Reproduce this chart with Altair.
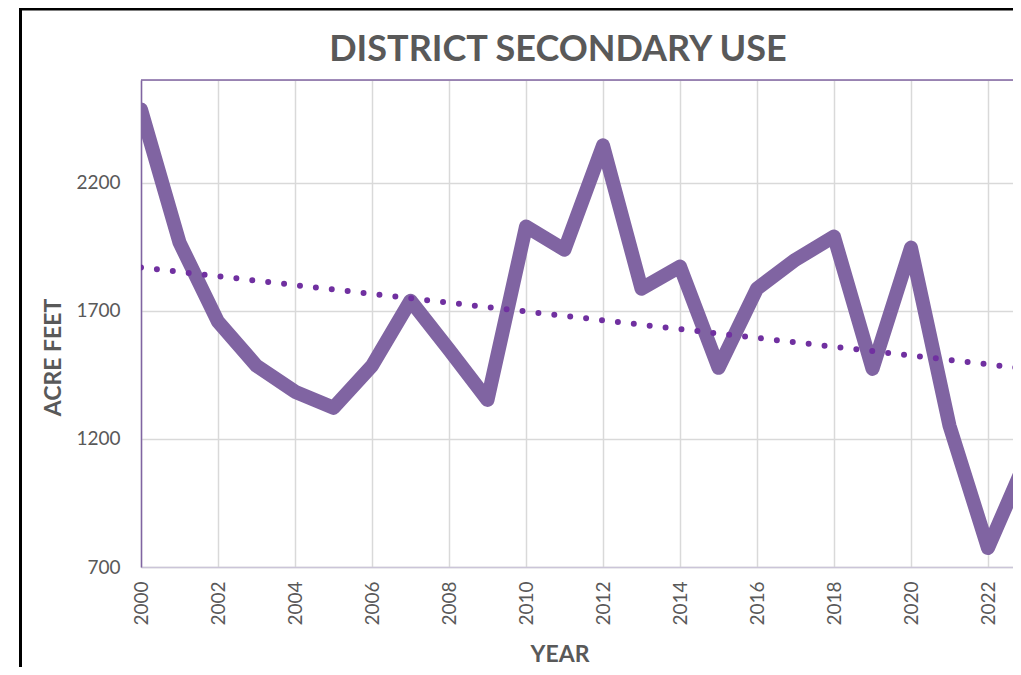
import altair as alt
import pandas as pd

years = list(range(2000, 2024))
acre_feet = [2485, 1966, 1657, 1485, 1384, 1321, 1485, 1739, 1548, 1352,
             2028, 1938, 2345, 1786, 1872, 1477, 1786, 1899, 1989, 1473,
             1946, 1251, 774, 1120]
x_ticks = list(range(2000, 2023, 2))
y_ticks = [700, 1200, 1700, 2200]
title_text = "DISTRICT SECONDARY USE"

df = pd.DataFrame({"year": years, "value": acre_feet})

FONT = "Lato"
TXT = "#595959"
PURPLE = "#8064A2"

W, H = 872, 487

x_scale = alt.Scale(domain=[2000, 2000 + W / 38.5], nice=False, zero=False)
y_scale = alt.Scale(domain=[700, 2600], nice=False, zero=False)

x_axis = alt.Axis(values=x_ticks, format="d", title="YEAR", labelAngle=270,
                  labelAlign="right", labelBaseline="middle", labelPadding=14,
                  labelFont=FONT, labelFontSize=19, labelColor=TXT,
                  titleFont=FONT, titleFontSize=23, titleFontWeight="bold",
                  titleColor=TXT, titleX=418.5, titleY=99,
                  titleBaseline="bottom", titleAlign="center",
                  ticks=False, grid=True, gridColor="#D9D9D9", gridWidth=1.5,
                  domainColor="#CBC5D8", domainWidth=1.5)
y_axis = alt.Axis(values=y_ticks, format="d", title="ACRE FEET",
                  labelPadding=21, labelFont=FONT, labelFontSize=19,
                  labelColor=TXT, titleFont=FONT, titleFontSize=23,
                  titleFontWeight="bold", titleColor=TXT, titleAngle=270,
                  titleX=-88, titleY=277, titleBaseline="middle",
                  titleAlign="center", ticks=False, grid=True,
                  gridColor="#D9D9D9", gridWidth=1.5,
                  domainColor=PURPLE, domainWidth=1.5)

base = alt.Chart(df)

line = base.mark_line(color=PURPLE, strokeWidth=14, strokeCap="round",
                      strokeJoin="round", clip=True).encode(
    x=alt.X("year:Q", scale=x_scale, axis=x_axis),
    y=alt.Y("value:Q", scale=y_scale, axis=y_axis),
)

trend = base.transform_regression("year", "value").mark_line(
    color="#7030A0", strokeWidth=6, strokeCap="round", strokeDash=[0, 16],
    clip=True).encode(
    x=alt.X("year:Q", scale=x_scale),
    y=alt.Y("value:Q", scale=y_scale),
)

one = alt.Data(values=[{"t": title_text}])

top_rule = alt.Chart(one).mark_rule(color=PURPLE, strokeWidth=1.5).encode(
    x=alt.value(0), x2=alt.value(W), y=alt.value(0)
)

border = alt.Chart(one).mark_rect(filled=False, stroke="#000000",
                                  strokeWidth=3).encode(
    x=alt.value(-120.5), x2=alt.value(1100),
    y=alt.value(-71), y2=alt.value(800)
)

title = alt.Chart(one).mark_text(font=FONT, fontSize=36, fontWeight="bold",
                                 color=TXT, align="center",
                                 baseline="alphabetic").encode(
    text="t:N", x=alt.value(417), y=alt.value(-19.5)
)

chart = alt.layer(border, top_rule, line, trend, title).properties(
    width=W, height=H,
    autosize=alt.AutoSizeParams(type="none"),
    padding={"left": 133, "top": 72, "right": 0, "bottom": 100},
).configure_view(stroke="transparent").configure(background="#ffffff")

chart.save("out.html", embed_options={"renderer": "svg", "actions": False})
